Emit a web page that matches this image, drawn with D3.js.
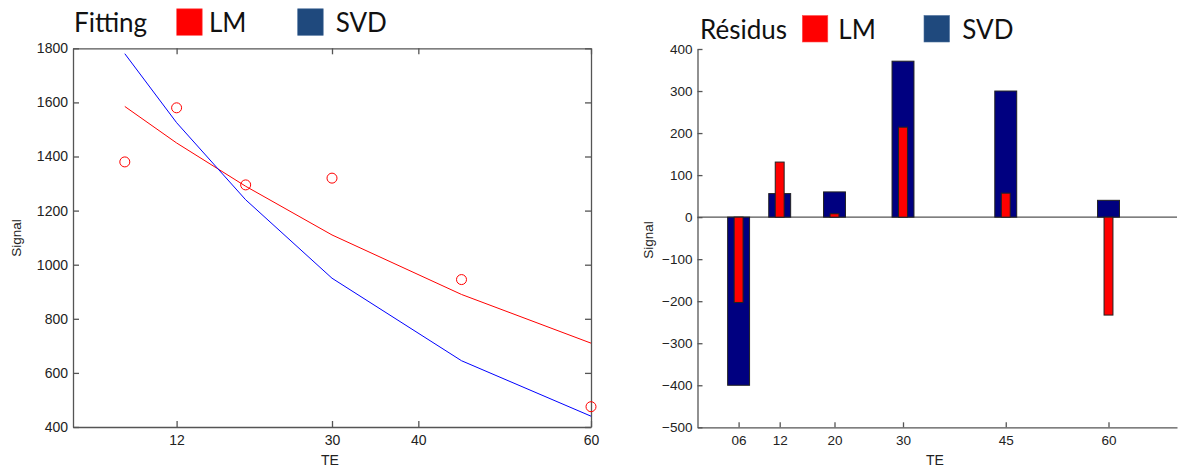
<!DOCTYPE html>
<html>
<head>
<meta charset="utf-8">
<script src="https://cdn.jsdelivr.net/npm/d3@7"></script>
<style>
  html, body { margin: 0; padding: 0; background: #fff; }
  svg { display: block; }
  .tk { font-family: "Liberation Sans", Arial, Helvetica, sans-serif; }
  .lg { font-family: "Lato", "Open Sans", sans-serif; }
</style>
</head>
<body>
<svg id="chart" width="1179" height="469"></svg>
<script>
// ---------------- data ----------------
const te = [6, 12, 20, 30, 45, 60];
const signal = [1380, 1580, 1295, 1320, 945, 475];
const fitLM = [1585, 1450, 1290, 1110, 890, 710];
const fitSVD = [1780, 1525, 1240, 950, 645, 440];
const resLM = [-203, 131, 8, 214, 57, -233];
const resSVD = [-400, 56, 60, 371, 300, 40];
const leftXTicks = [12, 30, 40, 60];
const leftYTicks = [400, 600, 800, 1000, 1200, 1400, 1600, 1800];
const rightXTicks = [6, 12, 20, 30, 45, 60];
const rightXLabels = ["06", "12", "20", "30", "45", "60"];
const rightYTicks = [-500, -400, -300, -200, -100, 0, 100, 200, 300, 400];
const legendSeries = ["LM", "SVD"];
const leftTitle = "Fitting";
const rightTitle = "Résidus";

// ---------------- styles ----------------
const RED = "#ff0000", BLUE_LINE = "#0000ff", NAVY = "#000080", LEG_BLUE = "#1f497d";
const AXIS = "#555", TXT = "#222";
const fmt = d3.format("d");

const svg = d3.select("#chart");

function styleAxis(g, fs) {
  g.attr("font-family", null).attr("font-size", null);
  g.selectAll("path.domain").attr("stroke", AXIS).attr("stroke-width", 1.3);
  g.selectAll(".tick line").attr("stroke", AXIS).attr("stroke-width", 1.3);
  g.selectAll(".tick text").attr("class", "tk").attr("fill", TXT).style("font-size", fs + "px");
}

// ================= LEFT CHART =================
const L = { x0: 73, x1: 591, y0: 48.3, y1: 427 };
const xL = d3.scaleLinear().domain([0, 60]).range([L.x0, L.x1]);
const yL = d3.scaleLinear().domain([400, 1800]).range([L.y1, L.y0]);
const gL = svg.append("g");

gL.append("g").attr("transform", `translate(0,${L.y1})`)
  .call(d3.axisBottom(xL).tickValues(leftXTicks).tickFormat(fmt).tickSizeInner(-6).tickSizeOuter(0).tickPadding(8))
  .call(g => styleAxis(g, 14));
gL.append("g").attr("transform", `translate(0,${L.y0})`)
  .call(d3.axisTop(xL).tickValues(leftXTicks).tickSizeInner(-6).tickSizeOuter(0).tickFormat(""))
  .call(g => styleAxis(g, 14));
gL.append("g").attr("transform", `translate(${L.x0},0)`)
  .call(d3.axisLeft(yL).tickValues(leftYTicks).tickFormat(fmt).tickSizeInner(-6).tickSizeOuter(0).tickPadding(5))
  .call(g => styleAxis(g, 14));
gL.append("g").attr("transform", `translate(${L.x1},0)`)
  .call(d3.axisRight(yL).tickValues(leftYTicks).tickSizeInner(-6).tickSizeOuter(0).tickFormat(""))
  .call(g => styleAxis(g, 14));

const lineL = d3.line().x(d => xL(d[0])).y(d => yL(d[1]));
gL.append("path").datum(te.map((t, i) => [t, fitLM[i]]))
  .attr("d", lineL).attr("fill", "none").attr("stroke", RED).attr("stroke-width", 1);
gL.append("path").datum(te.map((t, i) => [t, fitSVD[i]]))
  .attr("d", lineL).attr("fill", "none").attr("stroke", BLUE_LINE).attr("stroke-width", 1);
gL.selectAll("circle.pt").data(te.map((t, i) => [t, signal[i]])).join("circle")
  .attr("class", "pt").attr("cx", d => xL(d[0])).attr("cy", d => yL(d[1])).attr("r", 5)
  .attr("fill", "none").attr("stroke", RED).attr("stroke-width", 1);

gL.append("text").attr("class", "tk").attr("x", 330).attr("y", 465).attr("text-anchor", "middle")
  .style("font-size", "14px").attr("fill", TXT).text("TE");
gL.append("text").attr("class", "tk").attr("transform", "translate(21,238) rotate(-90)").attr("text-anchor", "middle")
  .style("font-size", "13.5px").attr("fill", TXT).text("Signal");

// ================= RIGHT CHART =================
const R = { x0: 697.5, x1: 1177, y0: 49, y1: 427.3 };
const xR = d3.scaleLinear().domain([0, 70]).range([R.x0, R.x1]);
const yR = d3.scaleLinear().domain([-500, 400]).range([R.y1, R.y0]);
const gR = svg.append("g");

gR.append("g").attr("transform", `translate(0,${R.y1})`)
  .call(d3.axisBottom(xR).tickValues(rightXTicks).tickFormat((d, i) => rightXLabels[i])
    .tickSizeInner(-5).tickSizeOuter(0).tickPadding(8))
  .call(g => styleAxis(g, 13.5));
gR.append("g").attr("transform", `translate(${R.x0},0)`)
  .call(d3.axisLeft(yR).tickValues(rightYTicks).tickFormat(fmt).tickSizeInner(-5).tickSizeOuter(0).tickPadding(5))
  .call(g => styleAxis(g, 13.5));

// zero line
gR.append("line").attr("x1", R.x0).attr("x2", R.x1).attr("y1", yR(0)).attr("y2", yR(0))
  .attr("stroke", AXIS).attr("stroke-width", 1.3);

const wSVD = xR(3.2) - xR(0), wLM = xR(1.3) - xR(0);
gR.selectAll("rect.svd").data(te.map((t, i) => [t, resSVD[i]])).join("rect")
  .attr("class", "svd")
  .attr("x", d => xR(d[0]) - wSVD / 2).attr("width", wSVD)
  .attr("y", d => Math.min(yR(0), yR(d[1]))).attr("height", d => Math.abs(yR(d[1]) - yR(0)))
  .attr("fill", NAVY).attr("stroke", "#222").attr("stroke-width", 1);
gR.selectAll("rect.lm").data(te.map((t, i) => [t, resLM[i]])).join("rect")
  .attr("class", "lm")
  .attr("x", d => xR(d[0]) - wLM / 2).attr("width", wLM)
  .attr("y", d => Math.min(yR(0), yR(d[1]))).attr("height", d => Math.abs(yR(d[1]) - yR(0)))
  .attr("fill", RED).attr("stroke", "#222").attr("stroke-width", 1);

gR.append("text").attr("class", "tk").attr("x", 935).attr("y", 465).attr("text-anchor", "middle")
  .style("font-size", "14px").attr("fill", TXT).text("TE");
gR.append("text").attr("class", "tk").attr("transform", "translate(653,240) rotate(-90)").attr("text-anchor", "middle")
  .style("font-size", "13.5px").attr("fill", TXT).text("Signal");

// ================= LEGENDS =================
function legend(x, baseline, title, sqX, txtX) {
  const g = svg.append("g");
  g.append("text").attr("class", "lg").attr("x", x).attr("y", baseline)
    .style("font-size", "26px").attr("fill", "#111").text(title);
  legendSeries.forEach((s, i) => {
    g.append("rect").attr("x", sqX[i]).attr("y", baseline - 23.5).attr("width", 25.5).attr("height", 26.5)
      .attr("fill", i === 0 ? RED : LEG_BLUE).attr("stroke", i === 0 ? "#ff5050" : "#4a6f9c").attr("stroke-width", 0.6);
    g.append("text").attr("class", "lg").attr("x", txtX[i]).attr("y", baseline)
      .style("font-size", "26px").attr("fill", "#111").text(s);
  });
}
legend(74, 32.3, leftTitle, [176.7, 297.7], [209, 335.7]);
legend(700, 39, rightTitle, [802.3, 924], [838.3, 962.3]);
</script>
</body>
</html>
